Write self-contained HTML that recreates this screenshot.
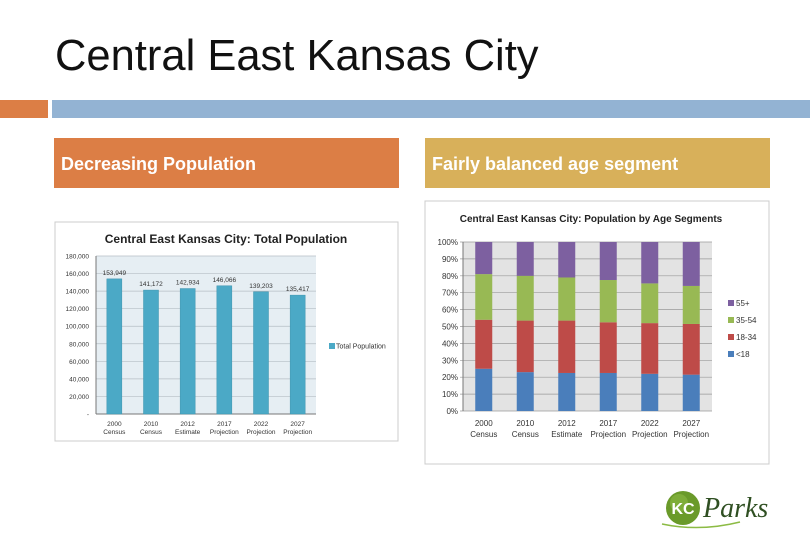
<!DOCTYPE html>
<html><head><meta charset="utf-8"><style>
body{margin:0;background:#fff;font-family:"Liberation Sans",sans-serif}
#p{position:relative;width:810px;height:540px;overflow:hidden;background:#fff}
.a{position:absolute}
</style></head><body>
<div id="p">
<div class="a" style="left:55px;top:32px;font-size:43.5px;color:#111">Central East Kansas City</div>
<div class="a" style="left:0;top:100px;width:48px;height:18px;background:#dc7e45"></div>
<div class="a" style="left:52px;top:100px;width:758px;height:18px;background:#93b3d3"></div>
<div class="a" style="left:54px;top:138px;width:345px;height:50px;background:#dc7e45;color:#fff;font-weight:bold;font-size:18px;line-height:52px;box-sizing:border-box;padding-left:7px">Decreasing Population</div>
<div class="a" style="left:425px;top:138px;width:345px;height:50px;background:#d8b05a;color:#fff;font-weight:bold;font-size:18px;line-height:52px;box-sizing:border-box;padding-left:7px">Fairly balanced age segment</div>
<svg class="a" style="left:0;top:0" width="810" height="540" id="s">
<rect x="55" y="222" width="343" height="219" fill="#fff" stroke="#ccc"/>
<rect x="425" y="201" width="344" height="263" fill="#fff" stroke="#ccc"/>
<text x="226" y="243" text-anchor="middle" font-size="12" font-weight="bold" fill="#222">Central East Kansas City: Total Population</text>
<text x="591" y="222" text-anchor="middle" font-size="10" font-weight="bold" fill="#222">Central East Kansas City:  Population by Age Segments</text>
<g id="g1"></g><g id="g2"></g>
<g>
<circle cx="683" cy="508" r="17" fill="#6a9a2a"/>
<circle cx="679" cy="503" r="9" fill="#8cbb44" opacity=".6"/>
<text x="683" y="514" text-anchor="middle" font-size="16" font-weight="bold" fill="#fff">KC</text>
<text x="703" y="517" font-family="Liberation Serif,serif" font-style="italic" font-size="28" fill="#2f4f22">Parks</text>
<path d="M662 524 Q700 532 740 522" stroke="#8cbb44" fill="none" stroke-width="1.5"/>
</g>
</svg>
</div>
<script>
const cats1=["2000|Census","2010|Census","2012|Estimate","2017|Projection","2022|Projection","2027|Projection"];
const popValues=[153949,141172,142934,146066,139203,135417];
const popLabels=["153,949","141,172","142,934","146,066","139,203","135,417"];
const popTicks=[0,20000,40000,60000,80000,100000,120000,140000,160000,180000];
const ageCats=["2000|Census","2010|Census","2012|Estimate","2017|Projection","2022|Projection","2027|Projection"];
const under18=[25,23,22.5,22.5,22,21.5];
const age18to34=[29,30.5,31,30,30,30];
const age35to54=[27,26.5,25.5,25,23.5,22.5];
const age55plus=[19,20,21,22.5,24.5,26];
const pctTicks=[0,10,20,30,40,50,60,70,80,90,100];
const NS="http://www.w3.org/2000/svg";
function mk(p,t,a){const e=document.createElementNS(NS,t);for(const k in a)e.setAttribute(k,a[k]);p.appendChild(e);return e;}
const g1=document.getElementById('g1');
const x0=96,x1=316,yT=256,yB=414;
const y1=v=>yB-(v/180000)*(yB-yT);
const bw1=(x1-x0)/cats1.length;
mk(g1,'rect',{x:x0,y:yT,width:x1-x0,height:yB-yT,fill:'#e6eef3'});
popTicks.forEach(t=>{
 if(t>0){const l=mk(g1,'line',{x1:x0,x2:x1,y1:y1(t),y2:y1(t),stroke:'#b5bec4','stroke-width':0.7});
 
 }
 const tx=mk(g1,'text',{x:x0-7,y:y1(t)+2.5,'text-anchor':'end','font-size':6.5,fill:'#333'});
 tx.textContent=t===0?'-':t.toLocaleString('en-US');
 
 
});
mk(g1,'line',{x1:x0,x2:x0,y1:yT,y2:yB,stroke:'#777'});
mk(g1,'line',{x1:x0,x2:x1,y1:yB,y2:yB,stroke:'#777'});
popValues.forEach((v,i)=>{
 const cx=x0+bw1*(i+0.5);
 const r=mk(g1,'rect',{x:cx-7.5,y:y1(v),width:15,height:yB-y1(v),fill:'#4ba9c6',stroke:'#3c93ae','stroke-width':0.5});
 
 
 const lb=mk(g1,'text',{x:cx,y:y1(v)-4,'text-anchor':'middle','font-size':6.5,fill:'#333'});
 lb.textContent=popLabels[i];
 
 
 cats1[i].split('|').forEach((s,j)=>{
  const t=mk(g1,'text',{x:cx,y:yB+12+j*8,'text-anchor':'middle','font-size':6.5,fill:'#333'});
  t.textContent=s;
  
  
 });
});
const lg=mk(g1,'rect',{x:329,y:343,width:6,height:6,fill:'#4ba9c6'});


const lt=mk(g1,'text',{x:336,y:348.5,'font-size':7,fill:'#333'});
lt.textContent='Total Population';


const g2=document.getElementById('g2');
const X0=463,X1=712,YT=242,YB=411;
const y2=v=>YB-(v/100)*(YB-YT);
const bw2=(X1-X0)/ageCats.length;
mk(g2,'rect',{x:X0,y:YT,width:X1-X0,height:YB-YT,fill:'#e3e3e3'});
pctTicks.forEach(t=>{
 const l=mk(g2,'line',{x1:X0-3,x2:X1,y1:y2(t),y2:y2(t),stroke:'#9a9a9a','stroke-width':0.7});
 
 
 const tx=mk(g2,'text',{x:X0-5,y:y2(t)+3,'text-anchor':'end','font-size':8,fill:'#333'});
 tx.textContent=t+'%';
 
 
});
mk(g2,'line',{x1:X0,x2:X0,y1:YT,y2:YB,stroke:'#777'});
const series=[[under18,'#4a7ebb','under-18'],[age18to34,'#be4b48','18-34'],[age35to54,'#98b954','35-54'],[age55plus,'#7d60a0','55-plus']];
ageCats.forEach((c,i)=>{
 const cx=X0+bw2*(i+0.5);let acc=0;
 series.forEach(([arr,col,nm])=>{
  const r=mk(g2,'rect',{x:cx-8.5,y:y2(acc+arr[i]),width:17,height:y2(acc)-y2(acc+arr[i]),fill:col});
  
  
  acc+=arr[i];
 });
 c.split('|').forEach((s,j)=>{
  const t=mk(g2,'text',{x:cx,y:YB+15+j*11,'text-anchor':'middle','font-size':8,fill:'#333'});
  t.textContent=s;
  
  
 });
});
const leg=[['55+','#7d60a0'],['35-54','#98b954'],['18-34','#be4b48'],['<18','#4a7ebb']];
leg.forEach(([n,c],i)=>{
 const y=306+i*17;
 const r=mk(g2,'rect',{x:728,y:y-6,width:6,height:6,fill:c});
 
 
 const t=mk(g2,'text',{x:736,y:y,'font-size':8,fill:'#333'});
 t.textContent=n;
 
 
});
</script>
</body></html>
